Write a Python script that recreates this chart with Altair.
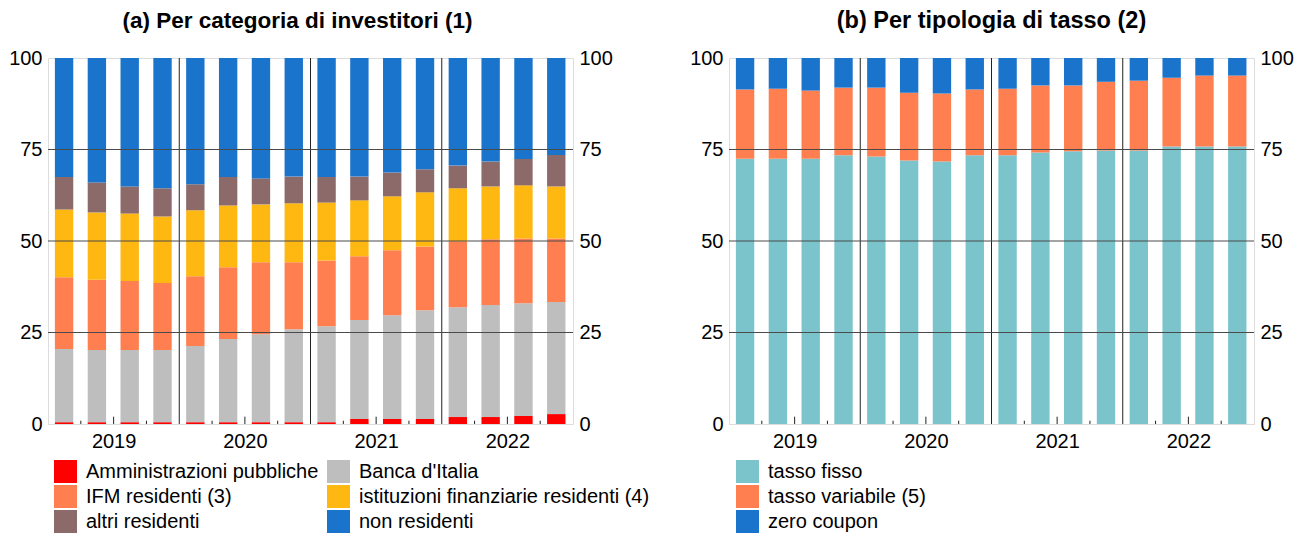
import altair as alt
import pandas as pd

FONT = "Liberation Sans"

years = [2019, 2020, 2021, 2022]
quarters = ["I", "II", "III", "IV"]

# ---- panel (a): per categoria di investitori (percent shares), stack order bottom -> top ----
inv_series = ["Amministrazioni pubbliche", "Banca d'Italia", "IFM residenti (3)",
              "istituzioni finanziarie residenti (4)", "altri residenti", "non residenti"]
inv_colors = ["#FF0000", "#BEBEBE", "#FF7F50", "#FFB812", "#8C6A69", "#1B74CC"]
# legend reading order (column-major in two columns)
inv_legend_order = ["Amministrazioni pubbliche", "IFM residenti (3)", "altri residenti",
                    "Banca d'Italia", "istituzioni finanziarie residenti (4)", "non residenti"]
amm = [0.5, 0.5, 0.5, 0.5, 0.5, 0.5, 0.5, 0.5, 0.5, 1.4, 1.4, 1.4, 1.9, 1.9, 2.2, 2.7]
banca = [20.0, 19.7, 19.7, 19.7, 20.8, 22.7, 24.0, 25.4, 26.2, 27.0, 28.3, 29.7, 30.0, 30.6, 30.8, 30.6]
ifm = [19.6, 19.2, 18.9, 18.3, 19.1, 19.6, 19.7, 18.3, 18.0, 17.4, 17.8, 17.4, 18.0, 18.0, 17.7, 17.4]
istfin = [18.5, 18.4, 18.4, 18.2, 18.0, 16.9, 15.8, 16.1, 15.8, 15.3, 14.7, 14.8, 14.5, 14.4, 14.5, 14.2]
altri = [8.9, 8.2, 7.4, 7.7, 7.1, 7.8, 7.1, 7.3, 7.0, 6.5, 6.5, 6.3, 6.2, 6.8, 7.2, 8.6]
nonres = [32.5, 34.0, 35.1, 35.6, 34.5, 32.5, 32.9, 32.4, 32.5, 32.4, 31.3, 30.4, 29.4, 28.3, 27.6, 26.5]

# ---- panel (b): per tipologia di tasso ----
rate_series = ["tasso fisso", "tasso variabile (5)", "zero coupon"]
rate_colors = ["#7BC4CB", "#FF7F50", "#1B74CC"]
fisso = [72.5, 72.5, 72.5, 73.4, 73.1, 72.0, 71.7, 73.4, 73.4, 74.2, 74.5, 74.7, 74.7, 75.8, 75.8, 75.8]
variabile = [18.9, 19.1, 18.6, 18.5, 18.8, 18.5, 18.6, 18.0, 18.2, 18.3, 18.0, 18.8, 19.1, 18.8, 19.4, 19.4]
zero = [8.6, 8.4, 8.9, 8.1, 8.1, 9.5, 9.7, 8.6, 8.4, 7.5, 7.5, 6.5, 6.2, 5.4, 4.8, 4.8]

y_ticks = [0, 25, 50, 75, 100]
grid_vals = [25, 50, 75]

W, H = 525, 366


def long_df(names, arrays):
    rows = []
    for k, (name, arr) in enumerate(zip(names, arrays)):
        for i, v in enumerate(arr):
            rows.append({"idx": i, "year": years[i // 4], "q": quarters[i % 4],
                         "serie": name, "ord": k, "value": v})
    return pd.DataFrame(rows)


def panel(df, legend_names, color_map, title, cols, legend_x, title_dx, title_size):
    xscale = alt.Scale(domain=[0, 16], nice=False, zero=False)
    yscale = alt.Scale(domain=[0, 100], nice=False)

    bars = alt.Chart(df).transform_stack(
        stack="value", groupby=["idx"], as_=["y0", "y1"],
        sort=[alt.SortField("ord", order="ascending")]
    ).transform_calculate(
        x0="datum.idx + 0.21", x1="datum.idx + 0.77"
    ).mark_bar(strokeWidth=0).encode(
        x=alt.X("x0:Q", scale=xscale,
                axis=alt.Axis(values=[2, 6, 10, 14], labelExpr="toString(2019 + (datum.value - 2) / 4)",
                              ticks=False, domain=False, grid=False, labelFontSize=20, labelPadding=7,
                              labelColor="black", labelFont=FONT, title=None, orient="bottom")),
        x2="x1:Q",
        y=alt.Y("y0:Q", scale=yscale,
                axis=alt.Axis(values=y_ticks, ticks=False, domain=False, grid=False, labelFontSize=20,
                              labelPadding=6, labelColor="black", labelFont=FONT, title=None,
                              orient="left")),
        y2="y1:Q",
        color=alt.Color("serie:N",
                        scale=alt.Scale(domain=legend_names, range=[color_map[n] for n in legend_names]),
                        legend=alt.Legend(title=None, orient="none", legendX=legend_x, legendY=402,
                                          columns=cols, symbolType="square", symbolSize=529,
                                          symbolStrokeWidth=0, symbolOpacity=1, labelFontSize=20,
                                          labelFont=FONT, labelColor="black", rowPadding=2,
                                          columnPadding=8, labelOffset=9, labelLimit=0, padding=0)),
    )

    grid = alt.Chart(pd.DataFrame({"g": grid_vals})).mark_rule(color="#4a4a4a", strokeWidth=1).encode(
        y=alt.Y("g:Q", scale=yscale,
                axis=alt.Axis(values=y_ticks, ticks=False, domain=False, grid=False, labelFontSize=20,
                              labelPadding=6, labelColor="black", labelFont=FONT, title=None,
                              orient="right"))
    )

    seps = alt.Chart(pd.DataFrame({"s": [4, 8, 12]})).mark_rule(color="#222222", strokeWidth=1).encode(
        x=alt.X("s:Q", scale=xscale, axis=None)
    )

    tick_pos = [i for i in range(1, 16) if i % 4 != 0]
    ticks = alt.Chart(pd.DataFrame({"t": tick_pos})).transform_calculate(
        h="datum.t % 4 == 2 ? 2.0 : 0.9", z="0"
    ).mark_rule(color="#222222", strokeWidth=1).encode(
        x=alt.X("t:Q", scale=xscale, axis=None),
        y=alt.Y("z:Q", scale=yscale, axis=None),
        y2="h:Q",
    )

    return alt.layer(bars, ticks, seps, grid).resolve_axis(x="independent", y="independent").properties(
        width=W, height=H,
        title=alt.TitleParams(text=title, fontSize=title_size, fontWeight="bold", font=FONT, anchor="middle",
                              frame="group", offset=16, color="black", dx=title_dx),
    )


left = panel(long_df(inv_series, [amm, banca, ifm, istfin, altri, nonres]),
             inv_legend_order, dict(zip(inv_series, inv_colors)),
             "(a) Per categoria di investitori (1)", 2, 6, -13, 22.5)
right = panel(long_df(rate_series, [fisso, variabile, zero]),
              rate_series, dict(zip(rate_series, rate_colors)),
              "(b) Per tipologia di tasso (2)", 1, 7, 0, 23.5)

chart = alt.hconcat(left, right, spacing=38).resolve_scale(color="independent").resolve_legend(
    color="independent"
).properties(padding=0).configure_view(stroke="black", strokeWidth=1).configure(font=FONT)

chart.save("out.html", embed_options={"renderer": "svg", "actions": False})
